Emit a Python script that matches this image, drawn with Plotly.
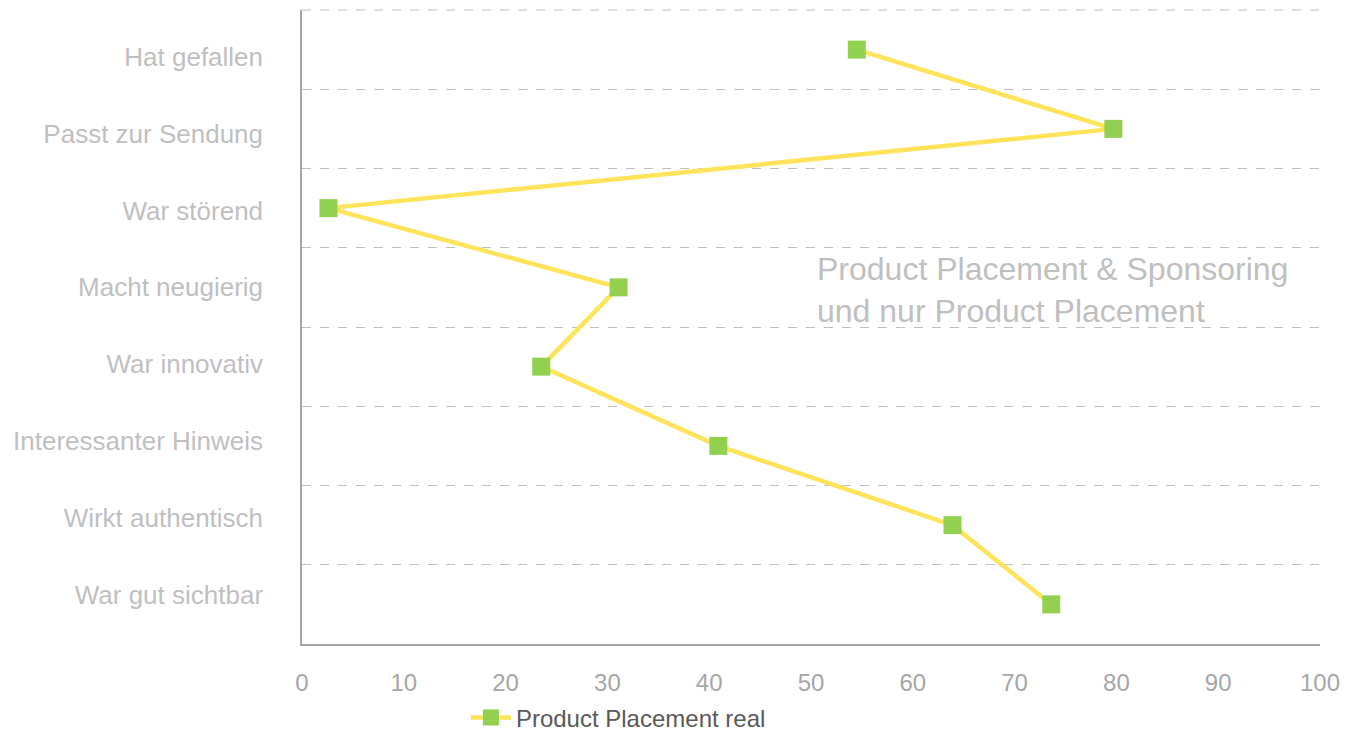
import plotly.graph_objects as go

categories = ["Hat gefallen", "Passt zur Sendung", "War störend", "Macht neugierig",
              "War innovativ", "Interessanter Hinweis", "Wirkt authentisch", "War gut sichtbar"]
values = [54.5, 79.7, 2.6, 31.1, 23.5, 40.9, 63.9, 73.6]
series_name = "Product Placement real"
x_ticks = [0, 10, 20, 30, 40, 50, 60, 70, 80, 90, 100]
note_lines = ["Product Placement & Sponsoring", "und nur Product Placement"]

FONT = "Liberation Sans, Arial, sans-serif"

n = len(categories)
y_pos = list(range(n))                       # category index positions
# label layout (labels in reference are spaced slightly tighter than the rows)
LABEL_OFFSET, LABEL_STEP = 0.09, 0.97
label_pos = [LABEL_OFFSET + i * LABEL_STEP for i in range(n)]
boundaries = [i - 0.5 for i in range(n + 1)]

fig = go.Figure()
fig.add_trace(go.Scatter(
    x=values, y=y_pos, mode="lines+markers", name=series_name,
    text=categories, hovertemplate="%{text}: %{x}<extra></extra>",
    line=dict(color="#FFE35A", width=4.5),
    marker=dict(symbol="square", size=18, color="#92D050"),
))

fig.add_annotation(
    x=50.4, y=0.558, xref="x", yref="paper", xanchor="left", yanchor="middle",
    text="<br>".join(note_lines), showarrow=False, align="left",
    font=dict(family=FONT, size=32, color="#BFBFBF"),
)

# top boundary gridline (edge of the row range)
fig.add_shape(type="line", xref="paper", yref="paper", x0=0, x1=1, y0=1, y1=1,
              line=dict(color="#BFBFBF", width=1, dash="dash"))

fig.update_layout(
    width=1340, height=723,
    margin=dict(l=294, r=28, t=2, b=87, autoexpand=False),
    paper_bgcolor="white", plot_bgcolor="white",
    font=dict(family=FONT),
    showlegend=True,
    legend=dict(orientation="h", x=0.161, xanchor="left", y=-0.1167, yref="paper",
                yanchor="middle", font=dict(family=FONT, size=24, color="#595959"),
                itemwidth=40),
    xaxis=dict(range=[0, 100], tickvals=x_ticks, showgrid=False, zeroline=False,
               showline=True, linecolor="#A6A6A6", linewidth=1.5, automargin=False,
               ticks="", ticklabelstandoff=16,
               tickfont=dict(family=FONT, size=24, color="#A6A6A6")),
    yaxis=dict(range=[n - 0.5, -0.5], tickmode="array", tickvals=label_pos,
               ticktext=categories, showgrid=False, automargin=False,
               showline=True, linecolor="#A6A6A6", linewidth=1.5,
               ticks="", ticklabelstandoff=32, zeroline=False,
               tickfont=dict(family=FONT, size=26, color="#BFBFBF"),
               minor=dict(tickmode="array", tickvals=boundaries, showgrid=True,
                          gridcolor="#BFBFBF", griddash="dash", gridwidth=1, ticks="")),
)

fig.write_html("out.html")
